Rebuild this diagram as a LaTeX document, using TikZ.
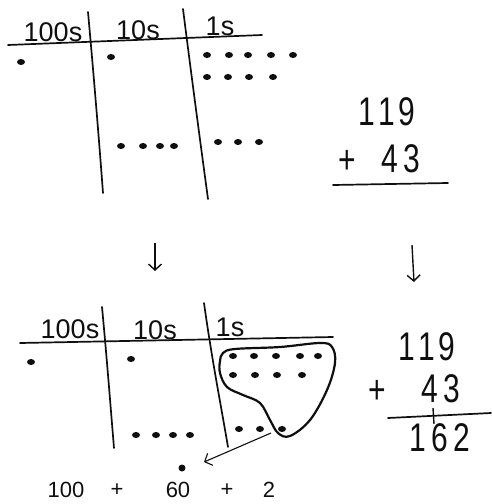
\documentclass[tikz,border=0pt]{standalone}
\usepackage{fontspec}
\setmainfont{Liberation Sans}
\newfontfamily\hand[FakeStretch=0.75]{Liberation Sans}
\usetikzlibrary{arrows.meta,positioning,shapes.geometric}
\definecolor{ink}{RGB}{15,15,15}
\tikzset{
  rule/.style={draw=ink,line width=1.7pt,line cap=round},
  bead/.style={ellipse,fill=ink,minimum width=8pt,minimum height=6pt,inner sep=0pt},
  head/.style={font=\fontsize{27}{27}\selectfont,inner sep=0pt,text=ink},
  num/.style={font=\hand\fontsize{40}{40}\selectfont,inner sep=0pt,text=ink},
  tally/.style={font=\fontsize{22}{22}\selectfont,inner sep=0pt,text=ink},
  arr/.style={draw=ink,line width=1.4pt,-{Straight Barb[length=6pt,width=13pt]}},
}

\begin{document}
\begin{tikzpicture}[x=1pt,y=-1pt]
\useasboundingbox (0,0) rectangle (491,504);

% top chart
\draw[rule] (8,45) -- (262,35);
\draw[rule] (88,12) .. controls (95,90) and (99,140) .. (103,193);
\draw[rule] (183,9) .. controls (192,80) and (200,140) .. (208,199);
\node[head] (hundredsA) at (53,32) {100s};
\node[head] (tensA) at (138,30) {10s};
\node[head] (onesA) at (220,26) {1s};
\node[bead] (hA) at (21,62) {};
\node[bead] (tA) at (111,57) {};
\foreach \x [count=\i] in {207,229,248,271,293}
  \node[bead] (oA\i) at (\x,55) {};
\foreach \x [count=\i] in {207,228,249,273}
  \node[bead] (oB\i) at (\x,77) {};
\foreach \x [count=\i] in {121,143,160,174}
  \node[bead] (tC\i) at (\x,146) {};
\foreach \x [count=\i] in {218,238,259}
  \node[bead] (oC\i) at (\x,142) {};

% top sum
\node[num] (topa) at (387,112) {1\kern3pt 1\kern3pt 9};
\node[num] (topplus) at (347,162) {+};
\node[num] (topb) at (401,159) {4\kern5pt 3};
\draw[rule] (333,185) -- (448,183);

% arrows down
\coordinate (dnA1) at (155,243);
\coordinate (dnA2) at (155,271);
\coordinate (dnB1) at (412,245);
\coordinate (dnB2) at (414,282);
\draw[arr] (dnA1) -- (dnA2);
\draw[arr] (dnB1) -- (dnB2);

% bottom chart
\draw[rule] (20,343) -- (333,337);
\draw[rule] (102,307) .. controls (107,360) and (110,400) .. (114,448);
\draw[rule] (204,303) .. controls (212,360) and (220,400) .. (228,447);
\node[head] (hundredsB) at (70,329) {100s};
\node[head] (tensB) at (155,330) {10s};
\node[head] (onesB) at (230,327) {1s};
\node[bead] (hB) at (31,362) {};
\node[bead] (tB) at (131,359) {};
\foreach \x [count=\i] in {136,156,173,190}
  \node[bead] (tD\i) at (\x,435) {};
\foreach \x [count=\i] in {233,254,276,300,318}
  \node[bead] (oD\i) at (\x,356) {};
\foreach \x [count=\i] in {233,255,277,302}
  \node[bead] (oE\i) at (\x,375) {};
\foreach \x [count=\i] in {239,260,282}
  \node[bead] (oF\i) at (\x,429) {};

% the ring round ten ones
\draw[draw=ink,line width=2.2pt] plot[smooth cycle,tension=0.6] coordinates {
  (223,353) (235,349) (280,347) (320,343) (332,347) (335,363) (327,390)
  (310,420) (290,436) (278,433) (270,420) (260,403) (243,395) (227,387)
  (220,373) (220,361)};
\coordinate (ringfoot) at (271,433);
\coordinate (carry) at (204,462);
\draw[arr,line width=1.1pt] (ringfoot) -- (carry);
\node[bead,minimum width=7pt,minimum height=7pt] (carrydot) at (182,468) {};

% bottom tally
\node[tally] (s100) at (66,490) {100};
\node[tally] (splusA) at (117,490) {+};
\node[tally] (s60) at (178,490) {60};
\node[tally] (splusB) at (227,490) {+};
\node[tally] (s2) at (269,490) {2};

% bottom sum
\node[num] (bota) at (427,347) {1\kern3pt 1\kern3pt 9};
\node[num] (botplus) at (377,392) {+};
\node[num] (botb) at (441,389) {4\kern5pt 3};
\draw[rule] (388,418) -- (491,413);
\draw[draw=ink,line width=1.4pt] (433,408) -- (434,424);
\node[num] (botc) at (440,438) {1\kern5pt 6\kern5pt 2};
\end{tikzpicture}
\end{document}
